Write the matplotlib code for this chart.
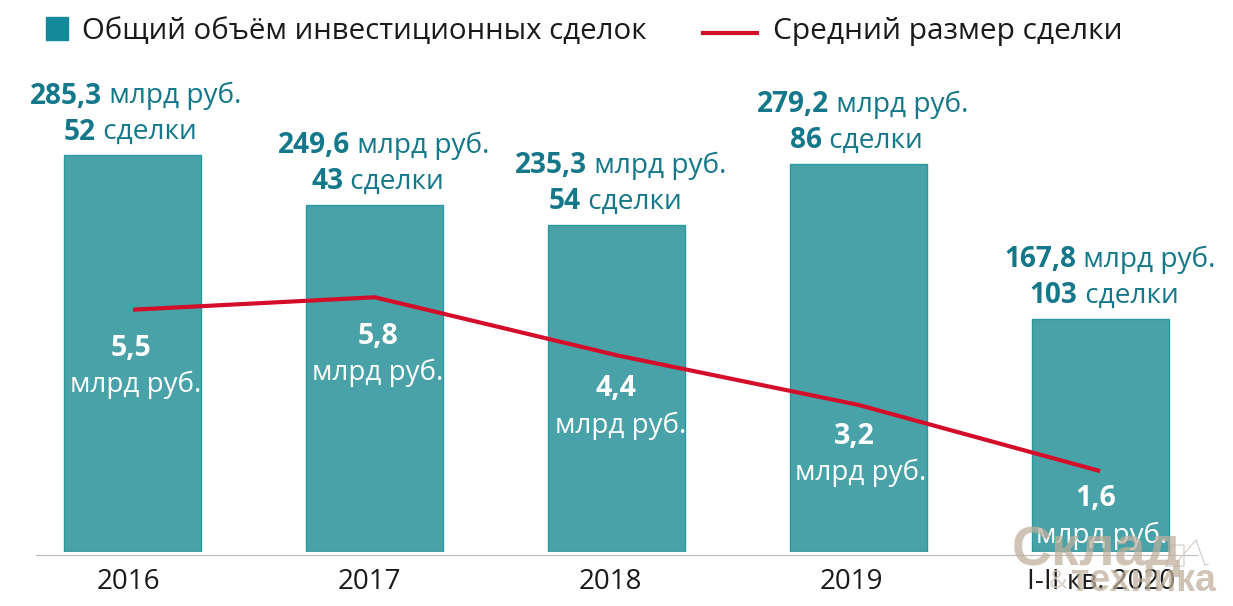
import matplotlib
matplotlib.use("Agg")
import matplotlib.pyplot as plt
from matplotlib.transforms import ScaledTranslation

plt.rcParams['font.family'] = ['Open Sans', 'DejaVu Sans']

years = ['2016', '2017', '2018', '2019', 'I-II кв. 2020']
volume = [285.3, 249.6, 235.3, 279.2, 167.8]
deals = [52, 43, 54, 86, 103]
volume_labels = ['285,3', '249,6', '235,3', '279,2', '167,8']
avg_size = [5.5, 5.8, 4.4, 3.2, 1.6]
avg_labels = ['5,5', '5,8', '4,4', '3,2', '1,6']
unit = 'млрд руб.'

teal = '#48a2a7'
edge = '#2a9aa0'
dark = '#14788a'
red = '#d40d2b'
tan = '#bfae9c'

W, H = 1233, 606
fig = plt.figure(figsize=(W / 100, H / 100), dpi=100)
ax = fig.add_axes([36 / W, (H - 552) / H, (1197 - 36) / W, 400 / H])
x = list(range(5))
ax.bar(x, volume, width=0.567, color=teal, edgecolor=edge, linewidth=1)
ax.set_xlim(-0.401, 4.401)
ax.set_ylim(0, 287.5)
ax.set_yticks([])
for s in ['top', 'left', 'right']:
    ax.spines[s].set_visible(False)
ax.spines['bottom'].set_color('#bdbdbd')
ax.spines['bottom'].set_position(('outward', 2.2))
ax.set_xticks(x)
ax.set_xticklabels(years, fontsize=20, color='#1a1a1a')
ax.tick_params(axis='x', length=0, pad=9.5)

# year labels sit a little left of the bars in the original
tick_shift = [-5, -5, -6, -7, 1]
for lab, dx in zip(ax.get_xticklabels(), tick_shift):
    lab.set_transform(lab.get_transform() + ScaledTranslation(dx / 100, 0, fig.dpi_scale_trans))

# line has its own scale
ax2 = ax.twinx()
ax2.set_ylim(-0.355, 9.31)
ax2.set_yticks([])
for s in ax2.spines.values():
    s.set_visible(False)
ax2.plot(x, avg_size, color=red, linewidth=3, solid_capstyle='butt')

renderer = fig.canvas.get_renderer()


def px(xp, yp):
    return xp / W, (H - yp) / H


def two_part(xc, yc, bold, regular, size=20.2):
    # bold number + regular text, centred together on xc
    a = fig.text(*px(xc, yc), bold, fontsize=size, fontweight='bold', color=dark, va='center', ha='left')
    b = fig.text(*px(xc, yc), ' ' + regular, fontsize=size, color=dark, va='center', ha='left')
    wa = a.get_window_extent(renderer).width
    wb = b.get_window_extent(renderer).width
    left = xc - (wa + wb) / 2
    a.set_x(left / W)
    b.set_x((left + wa) / W)


centers = [ax.transData.transform((i, 0))[0] for i in x]
tops = [H - ax.transData.transform((i, v))[1] for i, v in zip(x, volume)]
inner_y = [348, 336, 389, 436, 499]
vol_dx = [3, 9, 4, 4, 10]
deal_dx = [-3, 3, -1, -2, 4]
num_dx = [-2, 3, 0, -4, -4]
unit_dx = [3, 3, 4, 2, 2]

for i in x:
    two_part(centers[i] + vol_dx[i], tops[i] - 59, volume_labels[i], unit)
    two_part(centers[i] + deal_dx[i], tops[i] - 23, str(deals[i]), 'сделки')
    fig.text(*px(centers[i] + num_dx[i], inner_y[i]), avg_labels[i], fontsize=20.5, fontweight='bold', color='white', ha='center', va='center')
    fig.text(*px(centers[i] + unit_dx[i], inner_y[i] + 37), unit, fontsize=20, color='white', ha='center', va='center')

# legend
fig.add_artist(plt.Rectangle(px(46, 40), 22 / W, 23 / H, transform=fig.transFigure, color='#14899a'))
fig.text(*px(82, 31), 'Общий объём инвестиционных сделок', fontsize=21.2, color='#1a1a1a', va='center')
fig.add_artist(plt.Line2D([703 / W, 757 / W], [(H - 33) / H] * 2, color=red, linewidth=3))
fig.text(*px(773, 31), 'Средний размер сделки', fontsize=21.5, color='#1a1a1a', va='center')

# watermark
fig.text(*px(1097, 551), 'Склад', fontsize=40, fontweight='bold', family='Liberation Sans', color=tan, alpha=0.72, ha='center', va='center', zorder=5)
fig.text(*px(1143, 581), 'техника', fontsize=27, fontweight='bold', family='Liberation Sans', color=tan, alpha=0.72, ha='center', va='center', zorder=5)
fig.text(*px(1058, 581), '&', fontsize=18, color='#cfc7be', alpha=0.8, ha='center', va='center', zorder=5)
# small forklift outline
wm_color = '#d2cbc4'
fig.add_artist(plt.Line2D([1176 / W, 1196 / W, 1205 / W], [(H - 563) / H, (H - 540) / H, (H - 565) / H], color=wm_color, linewidth=0.8))
fig.add_artist(plt.Line2D([1205 / W, 1208 / W], [(H - 565) / H, (H - 564) / H], color=wm_color, linewidth=0.8))
fig.add_artist(plt.Line2D([1166 / W, 1172 / W, 1184 / W, 1184 / W, 1166 / W], [(H - 566) / H, (H - 545) / H, (H - 545) / H, (H - 566) / H, (H - 566) / H], color=wm_color, linewidth=0.8))

fig.savefig('out.png', dpi=100)
